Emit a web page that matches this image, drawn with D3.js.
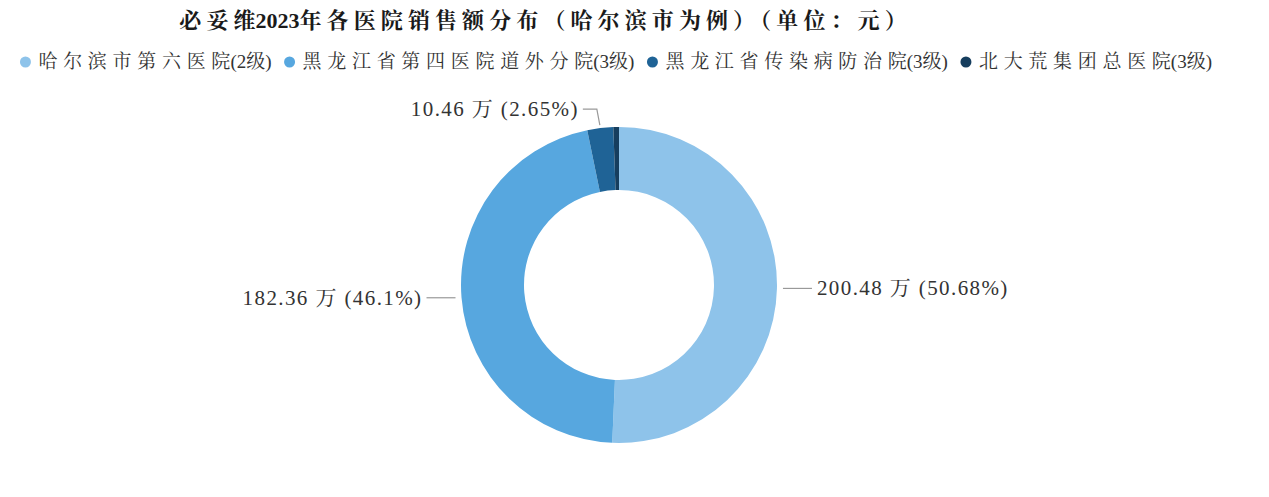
<!DOCTYPE html>
<html>
<head>
<meta charset="utf-8">
<script src="https://cdn.jsdelivr.net/npm/d3@7"></script>
<style>
html,body{margin:0;padding:0;background:#fff;}
svg{display:block;}
</style>
</head>
<body>
<svg id="chart" width="1269" height="497"></svg>
<script>
const titleText = "必妥维2023年各医院销售额分布（哈尔滨市为例）（单位：元）";
const categories = ["哈尔滨市第六医院(2级)", "黑龙江省第四医院道外分院(3级)", "黑龙江省传染病防治院(3级)", "北大荒集团总医院(3级)"];
const values = [200.48, 182.36, 10.46, 2.28];
const percents = ["50.68%", "46.1%", "2.65%", "0.57%"];
const showLabel = [true, true, true, false];
const colors = ["#8ec3ea", "#57a7df", "#1f6396", "#163e5e"];

const W = 1269, H = 497;
const svg = d3.select("#chart");
const fontStack = "'Liberation Serif','Noto Serif CJK SC','Noto Sans CJK SC',serif";

// write text as runs: CJK chars get extra letter spacing (not after the last one of a run)
function addRuns(sel, str, cjkSpacing) {
  const parts = str.split(/([\u3000-\u9fff\uff00-\uffef]+)/).filter(s => s.length);
  parts.forEach(p => {
    const isCjk = /[\u3000-\u9fff\uff00-\uffef]/.test(p);
    if (isCjk && p.length > 1) {
      sel.append("tspan").attr("letter-spacing", cjkSpacing).text(p.slice(0, -1));
      sel.append("tspan").attr("letter-spacing", 0).text(p.slice(-1));
    } else {
      sel.append("tspan").attr("letter-spacing", 0).text(p);
    }
  });
  return sel;
}

// title
const title = svg.append("text").attr("x", 543).attr("y", 28).attr("text-anchor", "middle")
  .attr("font-family", fontStack).attr("font-weight", "bold").attr("font-size", 22)
  .attr("fill", "#1a1a1a");
addRuns(title, titleText, 5.1);

// legend
const legend = svg.append("g");
let lx = 18;
const ly = 62;
categories.forEach((c, i) => {
  legend.append("circle").attr("cx", lx + 6).attr("cy", ly).attr("r", 5.5).attr("fill", colors[i]);
  const t = legend.append("text").attr("x", lx + 19).attr("y", ly + 6)
    .attr("font-family", fontStack).attr("font-size", 19).attr("fill", "#333");
  addRuns(t, c, 5.7);
  lx += 19 + t.node().getComputedTextLength() + 12;
});
const lb = legend.node().getBBox();
legend.attr("transform", `translate(${(616 - (lb.x + lb.width / 2))},0)`);

// donut
const cx = 619, cy = 285, rOuter = 158, rInner = 95;
const pie = d3.pie().sort(null).value(d => d)(values);
const arc = d3.arc().innerRadius(rInner).outerRadius(rOuter);
const g = svg.append("g").attr("transform", `translate(${cx},${cy})`);
g.selectAll("path").data(pie).enter().append("path")
  .attr("d", arc).attr("fill", (d, i) => colors[i]);

// labels
const labelG = svg.append("g");
const labelFont = 21;
pie.forEach((d, i) => {
  if (!showLabel[i]) return;
  const mid = (d.startAngle + d.endAngle) / 2;
  const ex = cx + Math.sin(mid) * (rOuter + 2);
  const ey = cy - Math.cos(mid) * (rOuter + 2);
  const text = `${values[i].toFixed(2)} 万 (${percents[i]})`;
  let pts, tx, ty, anchor;
  if (i === 2) {
    const ax = cx + Math.sin(mid) * (rOuter + 3), ay = cy - Math.cos(mid) * (rOuter + 3);
    pts = [[ax, ay], [ax - 3, ay - 16], [ax - 17, ay - 16]];
    tx = ax - 21; ty = ay - 9; anchor = "end";
  } else if (Math.sin(mid) > 0) {
    pts = [[ex + 4, ey], [ex + 33, ey]];
    tx = ex + 38; ty = ey + 7; anchor = "start";
  } else {
    pts = [[ex - 4, ey], [ex - 33, ey]];
    tx = ex - 37; ty = ey + 7; anchor = "end";
  }
  labelG.append("path").attr("d", d3.line()(pts)).attr("fill", "none")
    .attr("stroke", "#999").attr("stroke-width", 1.2);
  labelG.append("text").attr("x", tx).attr("y", ty).attr("text-anchor", anchor)
    .attr("font-family", fontStack).attr("font-size", labelFont).attr("letter-spacing", 1.4)
    .attr("fill", "#333").text(text);
});
</script>
</body>
</html>
